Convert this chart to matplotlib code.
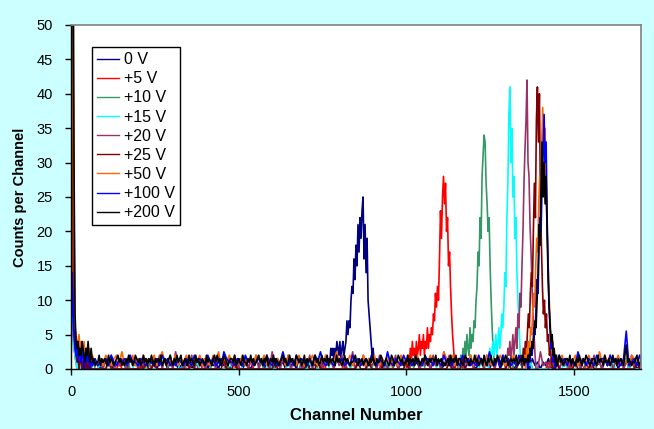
import matplotlib
matplotlib.use("Agg")
import matplotlib.pyplot as plt

plt.rcParams['font.family'] = ['Liberation Sans', 'DejaVu Sans']

series_names = ["0 V", "+5 V", "+10 V", "+15 V", "+20 V", "+25 V", "+50 V", "+100 V", "+200 V"]
series_colors = ["#000080", "#FF0000", "#339966", "#00FFFF", "#993366",
                 "#800000", "#FF6600", "#0000FF", "#000000"]

# channels 0..60 (every 3 channels): counts near the origin
low_channels = list(range(0, 61, 3))
low_0V   = [0, 15, 10, 6, 3, 2, 3, 1, 2, 1, 3, 2, 0, 2, 1, 2, 0, 1, 2, 1, 0]
low_5V   = [0, 12, 8, 3, 2, 1, 2, 0, 1, 2, 0, 1, 0, 1, 0, 0, 1, 0, 0, 1, 0]
low_10V  = [0, 20, 12, 4, 2, 1, 0, 2, 1, 0, 1, 0, 2, 0, 1, 0, 0, 1, 0, 0, 0]
low_15V  = [0, 18, 10, 3, 2, 1, 0, 1, 0, 2, 0, 1, 0, 0, 1, 0, 1, 0, 0, 1, 0]
low_20V  = [0, 25, 14, 5, 3, 2, 4, 2, 1, 3, 2, 1, 2, 0, 1, 2, 1, 0, 2, 1, 0]
low_25V  = [0, 40, 30, 10, 4, 2, 1, 2, 0, 1, 2, 0, 1, 0, 1, 0, 2, 0, 1, 0, 0]
low_50V  = [0, 46, 50, 22, 6, 5, 4, 3, 5, 2, 4, 3, 2, 4, 1, 3, 2, 1, 3, 2, 1]
low_100V = [0, 14, 9, 5, 3, 2, 4, 1, 3, 2, 1, 3, 2, 0, 2, 1, 3, 1, 2, 0, 1]
low_200V = [0, 90, 70, 30, 8, 4, 3, 4, 2, 3, 2, 4, 3, 2, 1, 3, 2, 4, 2, 1, 3]

# baseline counts in half-count units (hex digits); channel spacing per series below
base_step = [8, 8, 8, 8, 8, 8, 8, 8, 4]
base_0V = ("1201210231 2012310212 1032120131 2102130212 0121302121 3021203120 1213021023 "
           "1202130312 0212031201 2130212031 1202312103 2012130212 1302120312 0213021201 "
           "2120312032 1023120213 0212301212 2031202130 1202130212 0312021203 1213021302 2012130212")
base_5V = ("0000200000 0300000020 0000000300 0200000000 0003000020 0000000000 0020000300 "
           "0000020000 0300000002 0000300000 0020000000 0000002000 0300000000 0000000030 "
           "0200000000 0000000000 0002000000 0300000020 0000003000 0020000000 0000000300 0002000000")
base_10V = ("0002000030 0000200000 0300000002 0000000400 0020000000 0003000020 0000000000 "
            "0200030000 0000002000 0300000000 0000020000 0002000003 0000000200 0300000000 "
            "0000040000 0002000000 0000300000 0200000002 0000000000 0300020000 0000000003 0002000000")
base_15V = ("0000030000 0200000000 0000300002 0000000000 0300000200 0000000003 0002000000 "
            "0000300000 0200000002 0000000300 0003000000 0200000020 0000030000 0000000200 "
            "0300000000 0002000030 0000000200 0300000000 0000200003 0000000000 0020000300 0000030000")
base_20V = ("2031204132 1203140213 2041302132 0214031205 1302140312 0213041203 1402130214 "
            "0312051203 1402130214 0312041203 1402150214 0312041203 1402130214 0312041205 "
            "1402130214 0312041203 1402130214 0312051203 1402130214 0312041203 1402130214 0312041203")
base_25V = ("0200000000 0000300000 0000000020 0300000000 0000020000 0000000300 0200000000 "
            "0000003000 0000000020 0030000000 0000000200 0300000000 0000020000 0000000000 "
            "0200003000 0000000000 0003000200 0000000000 0300000020 0000300000 0000000000 0200000300")
base_50V = ("3124213241 2314213425 1324132413 2413521324 1324213241 3214251324 2132413214 "
            "3241321324 1423142132 4213241325 2132413214 1324213241 3214231324 2132413215 "
            "3241321324 1423142132 4213241321 3132413214 1324213241 3214231524 2132413214 3241321324")
base_100V = ("2132142313 1223142132 3142213213 2131423121 3213214232 1423121532 2132142312 "
             "3214213125 2131423213 1425213213 2312142312 3142132152 1321423123 2142313214 "
             "2313214231 2142315213 1423121423 3214231214 2142313215 2313214233 1423213b12 3142213214")
base_200V = ("2321432123 3242132312 2413232142 3212342312 1324231243 2312423132 4213232412 "
             "3123421324 2341232142 3214231232 1423213424 2312432123 3241232142 2132423123 "
             "4231324123 2413212342 3124232143 2312413232 1342312423 2413232142 3212423212 "
             "2342132312 3213242132 2431232124 3122432312 2413231423 1232421323 3241323121 "
             "2314232413 3212432132 2423123142 1324213243 2132431232 3241232413 2312342132 "
             "4213232412 2312423123 3241321324 2132432123 3214232142 2312423132 3214723212 2342132312")

# peak regions: first channel, then counts every 3 channels
peak_start = [772, 1003, 1160, 1240, 1300, 1340, 1350, 1360, 1360]
peak_0V = [1, 3, 2, 3, 1, 3, 2, 4, 3, 2, 4, 1, 3, 4, 2, 3, 4, 7, 5, 7, 6, 10, 12, 11, 16, 13,
           18, 15, 21, 17, 22, 19, 23, 25, 16, 21, 14, 19, 10, 8, 6, 4, 2, 3, 1]
peak_5V = [1, 2, 0, 3, 1, 4, 2, 3, 1, 4, 2, 3, 5, 2, 4, 3, 5, 2, 4, 3, 6, 3, 5, 4, 6, 5, 8, 7,
           11, 9, 12, 10, 16, 23, 19, 25, 28, 24, 27, 20, 22, 15, 17, 12, 8, 5, 3, 1, 0]
peak_10V = [1, 2, 0, 3, 1, 4, 2, 5, 3, 2, 6, 3, 5, 4, 7, 6, 10, 12, 17, 15, 22, 19, 28, 31, 34,
            33, 27, 24, 20, 22, 15, 10, 6, 3, 1, 0]
peak_15V = [1, 2, 0, 3, 1, 2, 4, 2, 3, 5, 2, 4, 6, 3, 5, 8, 6, 9, 14, 12, 22, 27, 37, 41, 30,
            35, 25, 28, 19, 22, 14, 10, 7, 3, 1, 0]
peak_20V = [1, 3, 2, 4, 1, 3, 5, 2, 4, 6, 3, 8, 6, 11, 9, 15, 20, 27, 32, 36, 42, 30, 28, 21,
            17, 12, 8, 5, 2, 0, 0]
peak_25V = [1, 2, 0, 3, 1, 4, 2, 5, 8, 6, 11, 14, 12, 20, 27, 22, 36, 41, 33, 40, 25, 18, 12,
            8, 10, 6, 8, 4, 5, 2, 3, 1, 0]
peak_50V = [1, 2, 0, 3, 2, 4, 3, 6, 5, 8, 11, 9, 15, 19, 17, 24, 28, 26, 33, 38, 31, 35, 27,
            22, 17, 12, 8, 5, 3, 4, 1, 2, 0]
peak_100V = [1, 0, 2, 1, 3, 2, 4, 6, 5, 9, 13, 11, 18, 22, 20, 27, 31, 37, 30, 33, 22, 15, 9,
             6, 3, 4, 1, 2, 0, 1]
peak_200V = [1, 2, 1, 3, 2, 4, 3, 5, 7, 6, 10, 14, 21, 18, 27, 33, 25, 30, 24, 28, 20, 13, 9,
             6, 4, 5, 2, 3, 1, 2]

lows = [low_0V, low_5V, low_10V, low_15V, low_20V, low_25V, low_50V, low_100V, low_200V]
bases = [base_0V, base_5V, base_10V, base_15V, base_20V, base_25V, base_50V, base_100V, base_200V]
peaks = [peak_0V, peak_5V, peak_10V, peak_15V, peak_20V, peak_25V, peak_50V, peak_100V, peak_200V]

x_ticks = [0, 500, 1000, 1500]
y_ticks = [0, 5, 10, 15, 20, 25, 30, 35, 40, 45, 50]


def build(low, base_str, step, p0, pk):
    base_vals = [int(c, 16) * 0.5 for c in base_str.replace(" ", "")]
    base_ch = [step * i for i in range(len(base_vals))]
    pk_ch = [p0 + 3 * i for i in range(len(pk))]
    xs, ys = list(low_channels), list(low)
    for c, v in zip(base_ch, base_vals):
        if low_channels[-1] < c < pk_ch[0]:
            xs.append(c); ys.append(v)
    xs += pk_ch; ys += list(pk)
    for c, v in zip(base_ch, base_vals):
        if c > pk_ch[-1]:
            xs.append(c); ys.append(v)
    return xs, ys


fig = plt.figure(figsize=(6.54, 4.29), dpi=100, facecolor="#CCFFFF")
ax = fig.add_axes([71 / 654, 1 - 369 / 429, 570 / 654, 344 / 429])
ax.set_facecolor("white")

for name, col, low, base, st, p0, pk in zip(series_names, series_colors, lows, bases,
                                            base_step, peak_start, peaks):
    xs, ys = build(low, base, st, p0, pk)
    ax.plot(xs, ys, color=col, lw=1.2, label=name)

ax.set_xlim(0, 1700)
ax.set_ylim(0, 50)
ax.set_xticks(x_ticks)
ax.set_yticks(y_ticks)
ax.tick_params(axis="both", direction="out", length=4.5, width=1, labelsize=10.5, colors="black")
ax.tick_params(axis="y", pad=8.5)
ax.tick_params(axis="x", pad=7)
ax.tick_params(top=False, right=False)
for s in ["left", "bottom"]:
    ax.spines[s].set_color("black")
    ax.spines[s].set_linewidth(1)
for s in ["top", "right"]:
    ax.spines[s].set_color("#808080")
    ax.spines[s].set_linewidth(1.2)

ax.set_xlabel("Channel Number", fontsize=12, fontweight="bold")
ax.set_ylabel("Counts per Channel", fontsize=10.5, fontweight="bold")
ax.xaxis.set_label_coords(0.5, -0.112)
ax.yaxis.set_label_coords(-0.078, 0.5)

leg = ax.legend(loc="upper left", bbox_to_anchor=(0.037, 0.936), fontsize=11.5,
                frameon=True, fancybox=False, shadow=False, borderaxespad=0,
                handlelength=1.35, handletextpad=0.35, labelspacing=0.26,
                borderpad=0.32)
leg.get_frame().set_edgecolor("black")
leg.get_frame().set_linewidth(1)
leg.get_frame().set_facecolor("white")
leg.get_frame().set_alpha(1)
for h in leg.get_lines():
    h.set_linewidth(1.0)

fig.savefig("out.png", dpi=100, facecolor=fig.get_facecolor())
